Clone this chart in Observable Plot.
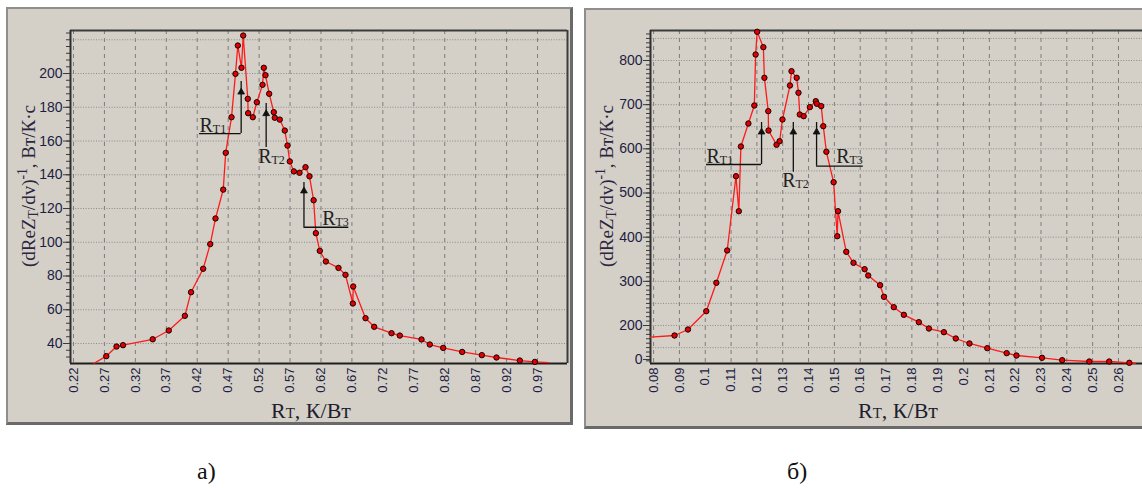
<!DOCTYPE html>
<html>
<head>
<meta charset="utf-8">
<script src="https://cdn.jsdelivr.net/npm/d3@7"></script>
<script src="https://cdn.jsdelivr.net/npm/@observablehq/plot@0.6"></script>
<style>
  html, body { margin: 0; padding: 0; background: #ffffff; }
  body { width: 1142px; height: 488px; position: relative; overflow: hidden; }
  .panel { position: absolute; background: #d4d0c8; box-sizing: border-box;
           border-top: 2px solid #8e8e8e; border-left: 2px solid #8e8e8e;
           border-bottom: 3px solid #6a6a6a; border-right: 3px solid #6a6a6a; }
  .chart { position: absolute; top: 0; }
  .chart svg { display: block; }
  .ylab { position: absolute; transform: translate(-50%, -50%) rotate(-90deg); white-space: nowrap;
          font-family: "Liberation Serif", "Times New Roman", "DejaVu Serif", serif; font-size: 19px; color: #2b2540; line-height: 19px; }
  .ylab sub { font-size: 0.72em; vertical-align: -0.25em; }
  .ylab sup { font-size: 0.72em; vertical-align: 0.55em; }
  .xlab { position: absolute; white-space: nowrap; font-family: "Liberation Serif", "Times New Roman", "DejaVu Serif", serif;
          font-size: 22px; line-height: 22px; color: #1e1e2e; }
  .xlab span { font-size: 15px; }
  .cap { position: absolute; font-family: "Liberation Serif", "Times New Roman", "DejaVu Serif", serif; font-size: 24px; line-height: 24px; color: #111; }
</style>
</head>
<body>
<div class="panel" style="left:6px; top:7px; width:567px; height:418px;"></div>
<div class="panel" style="left:584px; top:8px; width:580px; height:421px;"></div>
<div id="left" class="chart" style="left:0px;"></div>
<div id="right" class="chart" style="left:580px;"></div>
<div class="ylab" style="left:28px; top:186px;">(dReZ<sub>T</sub>/dv)<sup>-1</sup>, Вт/К·с</div>
<div class="ylab" style="left:606px; top:186px;">(dReZ<sub>T</sub>/dv)<sup>-1</sup>, Вт/К·с</div>
<div class="xlab" style="left:271px; top:400px;">R<span>T</span>, К/Вт</div>
<div class="xlab" style="left:858px; top:400px;">R<span>T</span>, К/Вт</div>
<div class="cap" style="left:197px; top:459px;">а)</div>
<div class="cap" style="left:787px; top:459px;">б)</div>
<script>
// ---------- Panel а) data ----------
const leftX = [0.273, 0.2895, 0.300, 0.348, 0.374, 0.400, 0.410, 0.4296, 0.441, 0.4495,
  0.462, 0.466, 0.4754, 0.4818, 0.4856, 0.4915, 0.4943, 0.5017, 0.5023, 0.5098,
  0.5163, 0.5255, 0.5276, 0.5303, 0.5363, 0.5437, 0.5453, 0.5534, 0.5615, 0.5659,
  0.5696, 0.5761, 0.5853, 0.595, 0.6014, 0.6081, 0.6117, 0.6181, 0.6279, 0.6483,
  0.6596, 0.6715, 0.6721, 0.692, 0.706, 0.734, 0.7474, 0.7825, 0.7959, 0.8175,
  0.8482, 0.880, 0.9037, 0.9414, 0.9657];
const leftY = [32.5, 38.2, 39.0, 42.5, 47.7, 56.4, 70.4, 84.3, 98.9, 114.1,
  131.2, 153.0, 174.1, 199.8, 216.6, 203.4, 222.5, 185.0, 176.5, 174.1,
  183.0, 193.3, 203.4, 199.0, 188.0, 177.1, 173.8, 172.7, 166.2, 157.3,
  147.9, 142.0, 141.2, 144.5, 139.1, 124.9, 105.4, 94.9, 88.6, 84.8,
  80.7, 63.7, 73.8, 55.0, 49.9, 46.1, 44.7, 42.4, 39.4, 37.4,
  35.0, 33.1, 31.7, 29.9, 29.1];
const leftLineStart = [0.2535, 28.3];
const leftLineEnd = [0.9882, 28.7];
const leftXTicks = [0.22, 0.27, 0.32, 0.37, 0.42, 0.47, 0.52, 0.57, 0.62, 0.67, 0.72, 0.77, 0.82, 0.87, 0.92, 0.97];
const leftXLabels = ["0.22", "0.27", "0.32", "0.37", "0.42", "0.47", "0.52", "0.57", "0.62", "0.67", "0.72", "0.77", "0.82", "0.87", "0.92", "0.97"];
const leftYTicks = [40, 60, 80, 100, 120, 140, 160, 180, 200];
const leftYLabels = ["40", "60", "80", "100", "120", "140", "160", "180", "200"];
const leftYGrid = [40, 60, 80, 100, 120, 140, 160, 180, 200, 220];
const leftXDomain = [0.21515, 1.01845];
const leftYDomain = [28.15, 225.5];
const leftAnno = [
  {n: "1", x: 0.491, top: 195.3, head: 189.0, bottom: 164.4, shelf: 0.4237, lx: 0.4237, ly: 165.6},
  {n: "2", x: 0.5314, top: 182.2, head: 176.2, bottom: 156.1, shelf: null, lx: 0.5185, ly: 147.0},
  {n: "3", x: 0.5925, top: 135.4, head: 130.4, bottom: 108.9, shelf: 0.665, lx: 0.6219, ly: 110.4}
];

// ---------- Panel б) data ----------
const rightX = [0.0881, 0.0933, 0.1004, 0.1043, 0.1085, 0.1119, 0.1130, 0.1138, 0.1167, 0.1190,
  0.1195, 0.1201, 0.1225, 0.1229, 0.1244, 0.1245, 0.1276, 0.1288, 0.1299, 0.1328,
  0.1334, 0.1354, 0.1361, 0.1366, 0.1381, 0.1405, 0.1428, 0.1432, 0.1449, 0.1457,
  0.1469, 0.1497, 0.1511, 0.1514, 0.1546, 0.1574, 0.1617, 0.1631, 0.1677, 0.1692,
  0.1730, 0.1769, 0.1827, 0.1866, 0.1924, 0.1970, 0.2023, 0.2092, 0.2167, 0.2205,
  0.2304, 0.2382, 0.2487, 0.2564, 0.2642];
const rightY = [177.4, 191, 232.4, 296.7, 369.9, 538, 458.8, 605.3, 657.4, 698.1,
  813.6, 865, 830.1, 760.8, 685.3, 641.5, 609.2, 617.3, 666.4, 743.4,
  775.8, 760.8, 726.9, 677.7, 673.9, 694.4, 707.9, 702, 696.7, 651.3,
  593.3, 524.5, 402.2, 458.8, 366.9, 341.9, 327.5, 313.2, 291.3, 265,
  241.5, 224.2, 207.6, 193.2, 184.9, 170.6, 159.3, 148.7, 137.4, 132.1,
  126.9, 121.5, 118.5, 118.5, 115.6];
const rightLineStart = [0.0788, 173.6];
const rightLineEnd = [0.2666, 114.6];
const rightXTicks = [0.08, 0.09, 0.10, 0.11, 0.12, 0.13, 0.14, 0.15, 0.16, 0.17, 0.18, 0.19, 0.20, 0.21, 0.22, 0.23, 0.24, 0.25, 0.26];
const rightXLabels = ["0.08", "0.09", "0.1", "0.11", "0.12", "0.13", "0.14", "0.15", "0.16", "0.17", "0.18", "0.19", "0.2", "0.21", "0.22", "0.23", "0.24", "0.25", "0.26"];
const rightYTicks = [123, 200, 300, 400, 500, 600, 700, 800];
const rightYLabels = ["0", "200", "300", "400", "500", "600", "700", "800"];
const rightYGrid = [150, 200, 250, 300, 350, 400, 450, 500, 550, 600, 650, 700, 750, 800, 850];
const rightXDomain = [0.0788, 0.2693];
const rightYDomain = [114.0, 867.9];
const rightAnno = [
  {n: "1", x: 0.1218, top: 659.6, head: 638.0, bottom: 564.5, shelf: 0.1005, lx: 0.1005, ly: 569.0},
  {n: "2", x: 0.1341, top: 659.6, head: 638.0, bottom: 547.0, shelf: null, lx: 0.1298, ly: 513.0},
  {n: "3", x: 0.1431, top: 659.6, head: 638.0, bottom: 560.7, shelf: 0.1612, lx: 0.1507, ly: 566.8}
];

const tickColor = "#1c1c44";
const serif = "Liberation Serif, Times New Roman, DejaVu Serif, serif";

function panel({xs, ys, start, end, xTicks, xLabels, yTicks, yLabels, yGrid, xDomain, yDomain, minorStep, anno, width, marginRight, rightFrame}) {
  const pts = xs.map((x, i) => ({x, y: ys[i]}));
  const linePts = [{x: start[0], y: start[1]}, ...pts, {x: end[0], y: end[1]}];
  const minor = d3.range(Math.ceil(yDomain[0] / minorStep) * minorStep, yDomain[1], minorStep);
  const shelves = anno.filter(d => d.shelf !== null);
  const marks = [
    Plot.gridX(xTicks, {stroke: "#7c7c7c", strokeOpacity: 1, strokeWidth: 1, strokeDasharray: "4,4"}),
    Plot.gridY(yGrid, {stroke: "#8a8a8a", strokeOpacity: 1, strokeWidth: 1, strokeDasharray: "1,1.6"}),
    Plot.axisY(minor, {tickSize: 4, stroke: "#3a3a3a", fill: "none", label: null}),
    Plot.axisY(yTicks, {tickSize: 7, tickPadding: 1, stroke: "#3a3a3a", fill: tickColor, fontSize: 14,
      tickFormat: d => yLabels[yTicks.indexOf(d)], label: null}),
    Plot.axisX(xTicks, {tickSize: 0, tickPadding: 4, tickRotate: -90, fill: tickColor, fontSize: 13,
      tickFormat: d => xLabels[xTicks.indexOf(d)], label: null}),
    Plot.ruleY([yDomain[1]], {stroke: "#3c3c3c", strokeWidth: 2}),
    Plot.ruleY([yDomain[0]], {stroke: "#1e1e1e", strokeWidth: 2}),
    Plot.ruleX([xDomain[0]], {stroke: "#2e2e2e", strokeWidth: 2}),
    rightFrame ? Plot.ruleX([xDomain[1]], {stroke: "#3c3c3c", strokeWidth: 2}) : null,
    Plot.line(linePts, {x: "x", y: "y", stroke: "#ff1a1a", strokeWidth: 1.3}),
    Plot.dot(pts, {x: "x", y: "y", r: 2.7, fill: "#e00000", stroke: "#150000", strokeWidth: 1}),
    // annotations
    Plot.ruleX(anno, {x: "x", y1: "bottom", y2: "top", stroke: "#111", strokeWidth: 1.3}),
    Plot.ruleY(shelves, {y: "bottom", x1: "x", x2: "shelf", stroke: "#111", strokeWidth: 1.3}),
    Plot.dot(anno, {x: "x", y: "head", symbol: "triangle", r: 2.5, fill: "#111", stroke: "#111", strokeWidth: 0.8}),
    Plot.text(anno, {x: "lx", y: "ly", text: () => "R", textAnchor: "start", lineAnchor: "bottom",
      fontSize: 20, fontFamily: serif, fill: "#222"}),
    Plot.text(anno, {x: "lx", y: "ly", text: d => "T" + d.n, textAnchor: "start", lineAnchor: "bottom",
      dx: 13.3, dy: 1, fontSize: 12, fontFamily: serif, fill: "#222"})
  ].filter(Boolean);
  return Plot.plot({
    width, height: 430,
    marginLeft: 70, marginTop: 30, marginRight, marginBottom: 67,
    x: {type: "linear", domain: xDomain},
    y: {type: "linear", domain: yDomain},
    style: {background: "transparent", fontFamily: "Liberation Sans, Arial, sans-serif", overflow: "visible"},
    marks
  });
}

document.getElementById("left").append(panel({
  xs: leftX, ys: leftY, start: leftLineStart, end: leftLineEnd,
  xTicks: leftXTicks, xLabels: leftXLabels, yTicks: leftYTicks, yLabels: leftYLabels, yGrid: leftYGrid,
  xDomain: leftXDomain, yDomain: leftYDomain, minorStep: 4, anno: leftAnno,
  width: 575, marginRight: 8, rightFrame: true
}));

document.getElementById("right").append(panel({
  xs: rightX, ys: rightY, start: rightLineStart, end: rightLineEnd,
  xTicks: rightXTicks, xLabels: rightXLabels, yTicks: rightYTicks, yLabels: rightYLabels, yGrid: rightYGrid,
  xDomain: rightXDomain, yDomain: rightYDomain, minorStep: 10, anno: rightAnno,
  width: 562, marginRight: 0, rightFrame: false
}));
</script>
</body>
</html>
